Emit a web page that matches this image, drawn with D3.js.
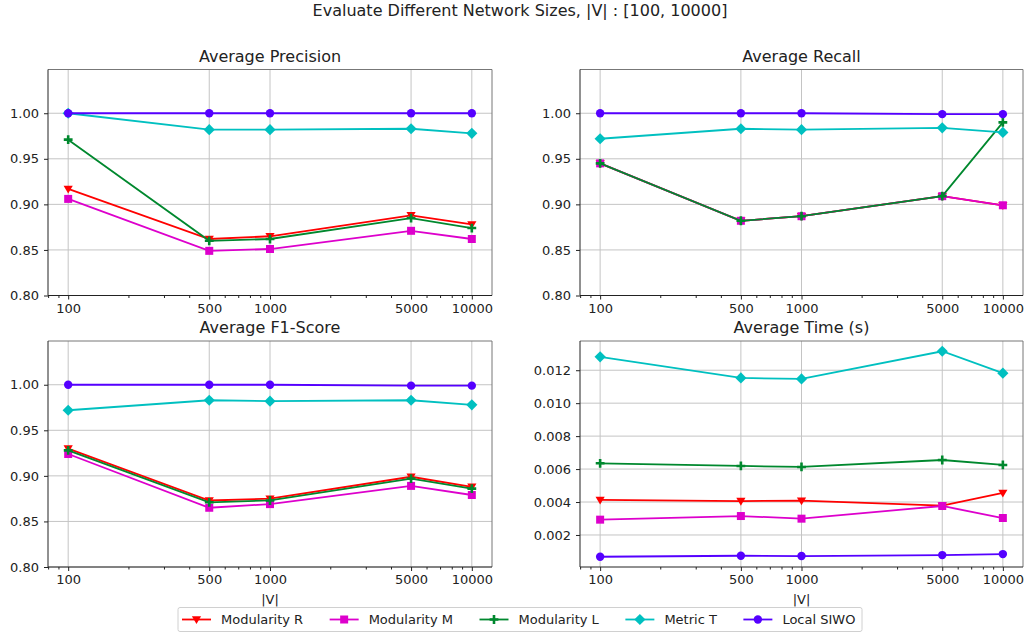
<!DOCTYPE html>
<html>
<head>
  <meta charset="utf-8">
  <script src="https://cdn.jsdelivr.net/npm/d3@7"></script>
  <style>
    body { margin: 0; background: #fff; }
    text { font-family: "DejaVu Sans", sans-serif; fill: #222; }
  </style>
</head>
<body>
<svg id="chart" width="1026" height="634"></svg>
<script>
  // network sizes |V|
  const sizes = [100, 500, 1000, 5000, 10000]
  const methods = ["Modularity R", "Modularity M", "Modularity L", "Metric T", "Local SIWO"]
  const colors = ["#ff0000", "#dd00cc", "#00882e", "#00c0c0", "#5500ff"]
  const shapes = ["tri", "square", "plus", "diamond", "circle"]

  // one row per method, in the order of `methods`
  const precision = [
    [0.917, 0.862, 0.865, 0.888, 0.878],
    [0.906, 0.849, 0.851, 0.871, 0.862],
    [0.971, 0.860, 0.862, 0.885, 0.874],
    [1.000, 0.982, 0.982, 0.983, 0.978],
    [1.000, 1.000, 1.000, 1.000, 1.000]
  ]
  const recall = [
    [0.945, 0.882, 0.887, 0.909, 0.899],
    [0.945, 0.882, 0.887, 0.909, 0.899],
    [0.945, 0.882, 0.887, 0.909, 0.990],
    [0.972, 0.983, 0.982, 0.984, 0.979],
    [1.000, 1.000, 1.000, 0.999, 0.999]
  ]
  const f1 = [
    [0.930, 0.873, 0.875, 0.899, 0.888],
    [0.924, 0.865, 0.869, 0.889, 0.879],
    [0.928, 0.871, 0.873, 0.897, 0.886],
    [0.972, 0.983, 0.982, 0.983, 0.978],
    [1.000, 1.000, 1.000, 0.999, 0.999]
  ]
  const time = [
    [0.00413, 0.00406, 0.00408, 0.00378, 0.00455],
    [0.00293, 0.00315, 0.00299, 0.00376, 0.00303],
    [0.00635, 0.00619, 0.00613, 0.00655, 0.00625],
    [0.01281, 0.01153, 0.01147, 0.01315, 0.01182],
    [0.00068, 0.00074, 0.00072, 0.00078, 0.00084]
  ]
  const scoreTicks = [0.80, 0.85, 0.90, 0.95, 1.00]
  const timeTicks = [0.002, 0.004, 0.006, 0.008, 0.010, 0.012]

  const svg = d3.select("#chart")

  function marker(shape) {
    if (shape == "circle") return "M4.2,0A4.2,4.2 0 1,1 -4.2,0A4.2,4.2 0 1,1 4.2,0Z"
    if (shape == "square") return "M-4,-4H4V4H-4Z"
    if (shape == "tri") return "M-4.6,-3.2H4.6L0,4.6Z"
    if (shape == "diamond") return "M0,-5.6L5.6,0L0,5.6L-5.6,0Z"
    // filled plus
    return "M-1.3,-4.4H1.3V-1.3H4.4V1.3H1.3V4.4H-1.3V1.3H-4.4V-1.3H-1.3Z"
  }

  function panel(opt) {
    let g = svg.append("g").attr("transform", `translate(${opt.x},${opt.y})`)
    let w = opt.w, h = opt.h

    let scX = d3.scaleLog()
                .domain([Math.pow(10, 1.9), Math.pow(10, 4.1)])
                .range([0, w])
    let scY = d3.scaleLinear()
                .domain(opt.yDomain)
                .range([h, 0])

    // grid
    g.selectAll(".gx").data(sizes).enter()
     .append("line")
     .attr("x1", d => scX(d)).attr("x2", d => scX(d))
     .attr("y1", 0).attr("y2", h)
     .attr("stroke", "#c4c4c4").attr("stroke-width", 1)
    g.selectAll(".gy").data(opt.yTicks).enter()
     .append("line")
     .attr("x1", 0).attr("x2", w)
     .attr("y1", d => scY(d)).attr("y2", d => scY(d))
     .attr("stroke", "#c4c4c4").attr("stroke-width", 1)

    // axes
    let xAxis = d3.axisBottom(scX).tickValues(sizes).tickFormat(d3.format("d"))
                  .tickSize(4).tickPadding(4)
    let ax = g.append("g").attr("transform", `translate(0,${h})`).call(xAxis)
    let minor = []
    for (let dec of [10, 100, 1000, 10000])
      for (let k = 2; k <= 9; k++) minor.push(dec * k)
    let xd = scX.domain()
    minor = minor.filter(v => v >= xd[0] && v <= xd[1] && !sizes.includes(v))
    g.selectAll(".minor").data(minor).enter()
     .append("line")
     .attr("x1", d => scX(d)).attr("x2", d => scX(d))
     .attr("y1", h).attr("y2", h + 2.5)
     .attr("stroke", "#222")

    let yAxis = d3.axisLeft(scY).tickValues(opt.yTicks).tickFormat(opt.fmt)
                  .tickSize(4).tickPadding(5)
    let ay = g.append("g").call(yAxis)

    for (let a of [ax, ay]) {
      a.select(".domain").remove()
      a.selectAll("text").style("font-size", "13px").style("font-family", "DejaVu Sans").attr("fill", "#222")
      a.selectAll("line").attr("stroke", "#222")
    }

    // frame
    g.append("line").attr("x1", 0).attr("x2", w).attr("y1", 0).attr("y2", 0).attr("stroke", "#777")
    g.append("line").attr("x1", w).attr("x2", w).attr("y1", 0).attr("y2", h).attr("stroke", "#777")
    g.append("line").attr("x1", 0).attr("x2", 0).attr("y1", 0).attr("y2", h).attr("stroke", "#222")
    g.append("line").attr("x1", 0).attr("x2", w).attr("y1", h).attr("y2", h).attr("stroke", "#222")

    g.append("text")
     .attr("x", w / 2).attr("y", -8)
     .attr("text-anchor", "middle")
     .style("font-size", "16px")
     .text(opt.title)

    if (opt.xLabel)
      g.append("text")
       .attr("x", w / 2).attr("y", h + 37)
       .attr("text-anchor", "middle")
       .style("font-size", "13px")
       .text("|V|")

    let line = d3.line().x((d, i) => scX(sizes[i])).y(d => scY(d))
    opt.data.forEach((row, k) => {
      let s = g.append("g")
      s.append("path").attr("d", line(row))
       .attr("fill", "none").attr("stroke", colors[k]).attr("stroke-width", 1.8)
      s.selectAll("path.m").data(row).enter()
       .append("path").attr("class", "m")
       .attr("d", marker(shapes[k]))
       .attr("transform", (d, i) => `translate(${scX(sizes[i])},${scY(d)})`)
       .attr("fill", colors[k])
    })
  }

  let tMin = d3.min(time, r => d3.min(r)), tMax = d3.max(time, r => d3.max(r))
  let tPad = (tMax - tMin) * 0.05

  const f2 = d3.format(".2f"), f3 = d3.format(".3f")
  panel({x: 48, y: 69.5, w: 444, h: 226, title: "Average Precision", data: precision,
         yDomain: [0.8, 1.048], yTicks: scoreTicks, fmt: f2})
  panel({x: 580, y: 69.5, w: 443, h: 226, title: "Average Recall", data: recall,
         yDomain: [0.8, 1.048], yTicks: scoreTicks, fmt: f2})
  panel({x: 48, y: 341, w: 444, h: 226, title: "Average F1-Score", data: f1,
         yDomain: [0.8, 1.048], yTicks: scoreTicks, fmt: f2, xLabel: true})
  panel({x: 580, y: 341, w: 443, h: 226, title: "Average Time (s)", data: time,
         yDomain: [tMin - tPad, tMax + tPad], yTicks: timeTicks, fmt: f3, xLabel: true})

  svg.append("text")
     .attr("x", 520).attr("y", 16)
     .attr("text-anchor", "middle")
     .style("font-size", "16px")
     .text("Evaluate Different Network Sizes, |V| : [100, 10000]")

  // legend
  let leg = svg.append("g")
  let box = leg.append("rect")
               .attr("x", 178).attr("y", 607.5).attr("width", 684).attr("height", 24)
               .attr("rx", 2).attr("fill", "#fff").attr("stroke", "#d0d0d0")
  let lx = 182
  methods.forEach((m, k) => {
    let item = leg.append("g").attr("transform", `translate(${lx},619.5)`)
    item.append("line").attr("x1", 0).attr("x2", 29).attr("y1", 0).attr("y2", 0)
        .attr("stroke", colors[k]).attr("stroke-width", 1.8)
    item.append("path").attr("d", marker(shapes[k])).attr("transform", "translate(14.5,0)")
        .attr("fill", colors[k])
    let t = item.append("text").attr("x", 39).attr("y", 4.5)
                .style("font-size", "13px").text(m)
    lx += 39 + t.node().getComputedTextLength() + 26.5
  })
</script>
</body>
</html>
